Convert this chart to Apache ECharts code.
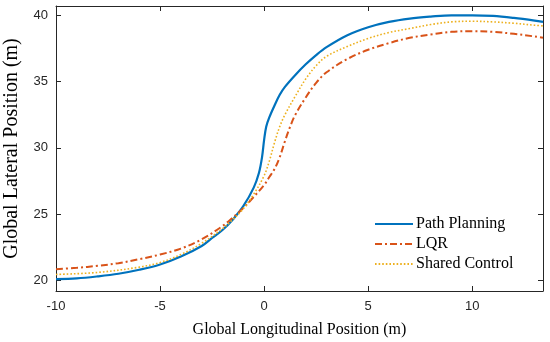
<!DOCTYPE html>
<html><head><meta charset="utf-8">
<script src="https://cdn.jsdelivr.net/npm/echarts@6/dist/echarts.min.js"></script>
<style>html,body{margin:0;padding:0;background:#fff}#c{width:550px;height:342px}</style>
</head><body><div id="c"></div>
<script>
const xTicks = [-10, -5, 0, 5, 10];
const yTicks = [20, 25, 30, 35, 40];
const pathPlanning = [[-10,20.1],[-9,20.15],[-8,20.3],[-7,20.5],[-6,20.8],[-5,21.2],[-4,21.8],[-3,22.6],[-2.5,23.2],[-2,23.8],[-1.5,24.6],[-1,25.6],[-0.5,27.0],[-0.25,28.1],[-0.1,29.3],[0,30.6],[0.1,31.6],[0.25,32.3],[0.5,33.2],[0.75,34.0],[1,34.6],[1.5,35.5],[2,36.3],[2.5,37.0],[3,37.6],[4,38.5],[5,39.1],[6,39.5],[7,39.75],[8,39.9],[9,40.0],[10,40.0],[11,39.95],[12,39.8],[13,39.6],[13.4,39.5]];
const lqr = [[-10,20.85],[-9,20.95],[-8,21.1],[-7,21.3],[-6,21.6],[-5,21.95],[-4,22.4],[-3,23.1],[-2,24.1],[-1.5,24.75],[-1,25.45],[-0.5,26.3],[0,27.2],[0.25,27.8],[0.5,28.4],[0.75,29.3],[1,30.5],[1.25,31.6],[1.5,32.5],[2,33.8],[2.5,34.9],[3,35.7],[4,36.7],[5,37.4],[6,37.9],[7,38.3],[8,38.55],[9,38.75],[10,38.8],[11,38.75],[12,38.6],[13,38.4],[13.4,38.3]];
const sharedControl = [[-10,20.45],[-8,20.6],[-6,21.0],[-5,21.35],[-4,21.95],[-3,22.8],[-2,23.9],[-1.5,24.6],[-1,25.4],[-0.5,26.5],[0,27.9],[0.25,29.0],[0.5,30.4],[0.75,31.6],[1,32.5],[1.5,33.9],[2,35.2],[2.5,36.2],[3,36.9],[4,37.65],[5,38.25],[6,38.7],[7,39.0],[8,39.3],[9,39.5],[10,39.55],[11,39.5],[12,39.4],[13,39.25],[13.4,39.2]];

const xMin = -10, xMax = 13.4, yMin = 19.2, yMax = 40.7;
const axisColor = '#262626';
const chart = echarts.init(document.getElementById('c'), null, {renderer:'canvas'});
function xa(pos, main){
  return {type:'value', position:pos, min:xMin, max:xMax, splitLine:{show:false},
    axisLine:{show:true, onZero:false, lineStyle:{color:axisColor, width:1}},
    axisTick:{show:true, inside:true, length:5, customValues:xTicks, lineStyle:{color:axisColor}},
    axisLabel:{show:main, customValues:xTicks, color:axisColor, fontFamily:'Liberation Sans', fontSize:13, margin:9},
    name: main ? 'Global Longitudinal Position (m)' : '', nameLocation:'middle', nameGap:31,
    nameTextStyle:{fontFamily:'Liberation Serif', fontSize:16, color:'#000'}};
}
function ya(pos, main){
  return {type:'value', position:pos, min:yMin, max:yMax, splitLine:{show:false},
    axisLine:{show:true, onZero:false, lineStyle:{color:axisColor, width:1}},
    axisTick:{show:true, inside:true, length:5, customValues:yTicks, lineStyle:{color:axisColor}},
    axisLabel:{show:main, customValues:yTicks, color:axisColor, fontFamily:'Liberation Sans', fontSize:13, margin:8},
    name: main ? 'Global Lateral Position (m)' : '', nameLocation:'middle', nameGap:34,
    nameTextStyle:{fontFamily:'Liberation Serif', fontSize:20, color:'#000'}};
}
chart.setOption({
  animation:false,
  grid:{left:56, right:7, top:6, bottom:51, containLabel:false, outerBoundsMode:'none'},
  xAxis:[xa('bottom', true), xa('top', false)],
  yAxis:[ya('left', true), ya('right', false)],
  legend:{show:true, orient:'vertical', left:374, top:216, right:'auto', bottom:'auto', padding:0,
    itemWidth:38, itemHeight:14, itemGap:4, align:'left',
    itemStyle:{opacity:0},
    textStyle:{fontFamily:'Liberation Serif', fontSize:16, color:'#000', padding:[0,0,0,-2]},
    data:['Path Planning', 'LQR', 'Shared Control']},
  series:[
    {name:'Path Planning', type:'line', data:pathPlanning, showSymbol:false, symbol:'none', smooth:0.35,
     lineStyle:{color:'#0072BD', width:2.2, type:'solid'}, itemStyle:{color:'#0072BD'}},
    {name:'LQR', type:'line', data:lqr, showSymbol:false, symbol:'none', smooth:0.35,
     lineStyle:{color:'#D95319', width:2, type:[7,3,2,3]}, itemStyle:{color:'#D95319'}},
    {name:'Shared Control', type:'line', data:sharedControl, showSymbol:false, symbol:'none', smooth:0.35,
     lineStyle:{color:'#EDB120', width:1.6, type:[1.6,2]}, itemStyle:{color:'#EDB120'}}
  ]
});
</script></body></html>
